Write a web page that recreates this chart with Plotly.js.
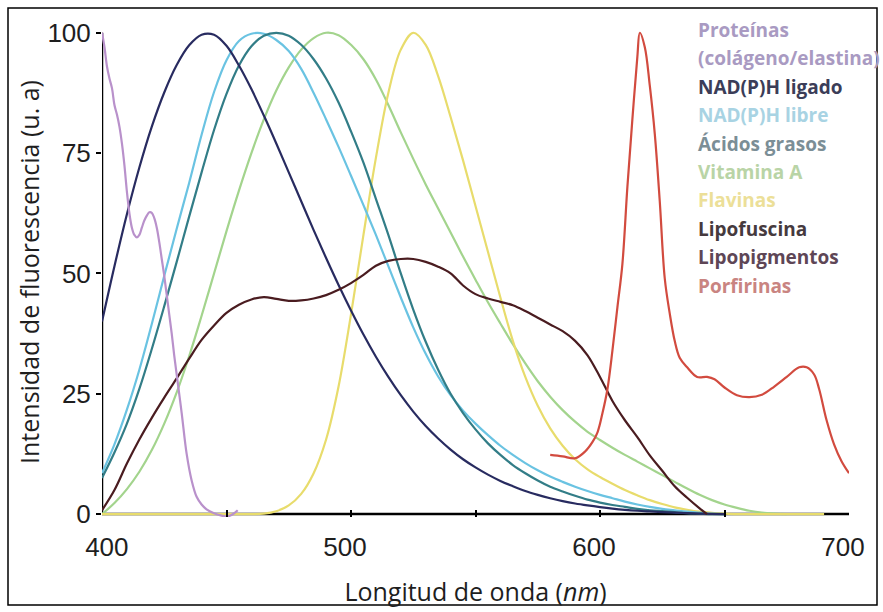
<!DOCTYPE html>
<html><head><meta charset="utf-8">
<script src="https://cdn.plot.ly/plotly-3.0.1.min.js"></script>
<style>html,body{margin:0;padding:0;background:#fff;} #chart{width:883px;height:612px;}</style>
</head><body><div id="chart"></div>
<script>
// ---------- data ----------
const grid5 = [];
for (let w = 400; w <= 650; w += 5) grid5.push(w);

const proteinsX = [400,401,402,403,404,405,406,407,408,409,410,411,412,413,414,415,416,417,418,419,420,421,422,423,424,425,426,427,428,429,430,432,434,436,438,440,442,445,448,450,452,454.5];
const proteinsY = [100,97,93,90.5,88.5,85,83,80.5,77,72.5,67,62.5,59.5,58,57.5,58,59.5,61,62,62.7,62.6,61.5,59.5,56.5,53,49.5,45.5,41.5,37.5,33,29,21,12.5,7,3.6,2,1,0.2,-0.3,-0.5,-0.2,0.8];

const nadhBoundX = grid5;
const nadhBoundY = [40,51.5,62.3,72,80.5,87.6,93.3,97.4,99.6,99.6,97.3,93.2,88.3,82.8,77,71,65,59,53.2,47.6,42.3,37.3,32.7,28.5,24.7,21.3,18.3,15.7,13.4,11.4,9.7,8.2,6.9,5.8,4.8,4,3.3,2.7,2.2,1.8,1.45,1.15,0.9,0.7,0.55,0.42,0.3,0.2,0.12,0.05,0];

const nadhFreeX = grid5;
const nadhFreeY = [8.5,14.5,21.7,30,39.5,49.5,59.3,68.8,78.8,87.7,94.3,98.3,99.8,99.8,98.5,96.2,92.5,87.5,82,76.3,70.3,64.2,58,51.5,45,38.8,33.3,28.6,24.7,21.5,18.8,16.4,14.2,12.3,10.6,9.1,7.8,6.7,5.7,4.8,4,3.3,2.6,2,1.5,1.1,0.8,0.5,0.3,0.1,0];

const fattyAcidsX = grid5;
const fattyAcidsY = [7.5,12.8,18.8,26,34.3,43.2,52.4,61.8,71,79.8,87.3,93.2,97.2,99.4,100,99.4,97.5,94.5,90.5,85.5,79.5,73,65.5,58,50,42.5,35.8,30,25,21,17.6,14.7,12.3,10.2,8.5,7,5.7,4.7,3.8,3,2.4,1.9,1.5,1.1,0.8,0.6,0.4,0.2,0.1,0,0];

const vitaminAX = [400,405,410,415,420,425,430,435,440,445,450,455,460,465,470,475,480,485,490,495,500,505,510,515,520,525,530,535,540,545,550,555,560,565,570,575,580,585,590,595,600,605,610,615,620,625,630,635,640,645,650,655,660,665,670,675];
const vitaminAY = [0,2.3,5.2,8.8,13.3,18.8,25.3,32.8,41.2,50,58.8,67.2,75,82,88,92.8,96.5,98.9,100,99.5,97.5,94.5,90.3,85,79.3,73.8,68.5,63.5,58.5,53.5,48.7,44,39.6,35.3,31.3,27.6,24.4,21.6,19.2,17.1,15.4,13.8,12.3,10.9,9.5,8.1,6.7,5.3,4,2.9,2,1.3,0.7,0.3,0.1,0];

const flavinsX = [400,405,410,415,420,425,430,435,440,445,450,455,460,465,470,475,480,485,490,495,500,505,510,515,520,525,530,535,540,545,550,555,560,565,570,575,580,585,590,595,600,605,610,615,620,625,630,635,640,645,650,655,660,670,680,690];
const flavinsY = [0,0,0,0,0,0,0,0,0,0,0,0,0,0.1,0.6,1.8,4.2,8.5,15.5,26.5,41.5,58,74,87.5,96.5,100,97.5,91,82.5,73.5,64,54.5,45,36,28.5,22.5,17.8,14.2,11.4,9.3,7.7,6.3,5,3.9,2.9,2.1,1.4,0.9,0.5,0.25,0.1,0,0,0,0,0];

const lipofuscinX = [400,405,410,415,420,425,430,435,440,445,450,455,460,465,470,475,480,485,490,495,500,505,510,515,520,525,530,535,540,545,550,555,560,565,570,575,580,585,590,595,600,605,610,615,620,625,630,635,640,643];
const lipofuscinY = [0.8,5,10.5,15.5,20,24.2,28.2,32.3,36.2,39.2,41.8,43.5,44.6,45.1,44.7,44.3,44.4,44.8,45.5,46.6,48,49.7,51.6,52.6,53,53,52.4,51.4,50,47.5,45.7,44.8,44.1,43.4,42.2,40.8,39.4,38,36,33,28.5,23.5,19.5,16,12.2,9,5.8,3.4,1.2,0];

const porphyrinsX = [580,585,590,594,597,599,601,603,605,607,609,611,613,615,616,618,620,622,624,626,628,630,632,635,639,643,646,650,655,660,665,670,675,680,683,686,688,691,694,697,700];
const porphyrinsY = [12.3,12,11.6,13,15,17,21,26,34,43,52,68,82,95,100,97,89,79,65,49,41.7,36,32.5,30.5,28.5,28.5,28,26.3,24.7,24.3,24.8,26.5,28.5,30.5,30.5,29,26,19.5,14.5,11,8.5];

const legendLabels = ['Proteínas','(colágeno/elastina)','NAD(P)H ligado','NAD(P)H libre','Ácidos grasos','Vitamina A','Flavinas','Lipofuscina','Lipopigmentos','Porfirinas'];
const legendColors = ['#a99ac2','#a99ac2','#3b3d58','#a8d3e3','#7b8e96','#b9d4a6','#ecdf98','#463a3e','#5e4656','#c98481'];

const xTickVals = [400,450,500,550,600,650,700];
const xTickText = ['400','','500','','600','','700'];
const yTickVals = [0,25,50,75,100];
const yTickText = ['0','25','50','75','100'];

// ---------- traces ----------
const series = [
  {x: vitaminAX,   y: vitaminAY,   c: '#a3d48d', n: 'Vitamina A'},
  {x: flavinsX,    y: flavinsY,    c: '#e8dc6c', n: 'Flavinas'},
  {x: nadhFreeX,   y: nadhFreeY,   c: '#6ac3e2', n: 'NAD(P)H libre'},
  {x: fattyAcidsX, y: fattyAcidsY, c: '#327d87', n: 'Ácidos grasos'},
  {x: nadhBoundX,  y: nadhBoundY,  c: '#282b60', n: 'NAD(P)H ligado'},
  {x: lipofuscinX, y: lipofuscinY, c: '#4a1c20', n: 'Lipofuscina'},
  {x: proteinsX,   y: proteinsY,   c: '#b991cb', n: 'Proteínas'},
  {x: porphyrinsX, y: porphyrinsY, c: '#d24b3f', n: 'Porfirinas'}
];
const traces = series.map(s => ({
  type: 'scatter', mode: 'lines', x: s.x, y: s.y, name: s.n,
  line: {color: s.c, width: 2.2, shape: 'spline', smoothing: 1},
  hoverinfo: 'x+y+name'
}));

// ---------- layout ----------
const W = 883, H = 612, L = 102, R = 34, T = 27, B = 95;
const pw = W - L - R, ph = H - T - B;
const pxX = x => (x - L) / pw;
const pxY = y => (H - B - y) / ph;

const annotations = legendLabels.map((t, i) => ({
  text: '<b>' + t + '</b>', xref: 'paper', yref: 'paper',
  x: pxX(696), y: pxY(30 + i * 28.4), xanchor: 'left', yanchor: 'middle',
  showarrow: false, font: {family: 'Open Sans', size: 19, color: legendColors[i]}
}));

// first label sits a little right of its tick in the reference
const xTickTextShown = xTickText.map((t, i) => i === 0 ? '\u00a0\u00a0\u00a0' + t : t);

const layout = {
  width: W, height: H,
  margin: {l: L, r: R, t: T, b: B, pad: 0},
  paper_bgcolor: '#fff', plot_bgcolor: '#fff',
  showlegend: false,
  xaxis: {
    range: [400, 700], tickmode: 'array', tickvals: xTickVals, ticktext: xTickTextShown,
    ticks: 'inside', ticklen: 7, tickwidth: 1.5, tickcolor: '#000',
    showline: false, zeroline: false, showgrid: false, automargin: false,
    tickfont: {family: 'Liberation Sans, Arial', size: 26, color: '#1e1e1e'},
    ticklabelstandoff: 12, ticklabelshift: -6,
    title: {text: 'Longitud de onda (<i>nm</i>)', font: {family: 'Open Sans', size: 25, color: '#1e1e1e'}, standoff: 22}
  },
  yaxis: {
    range: [-0.6, 101.2], tickmode: 'array', tickvals: yTickVals, ticktext: yTickText,
    ticks: 'outside', ticklen: 5, tickwidth: 1.5, tickcolor: '#000',
    showline: false, zeroline: false, showgrid: false, automargin: false,
    tickfont: {family: 'Liberation Sans, Arial', size: 26, color: '#1e1e1e'},
    title: {text: 'Intensidad de fluorescencia (u. a)', font: {family: 'Open Sans', size: 25, color: '#1e1e1e'}, standoff: 0}
  },
  shapes: [
    {type: 'line', xref: 'x', yref: 'y', x0: 400, x1: 400, y0: 0, y1: 100, line: {color: '#000', width: 2.5}, layer: 'below'},
    {type: 'line', xref: 'x', yref: 'y', x0: 400, x1: 700, y0: 0, y1: 0, line: {color: '#000', width: 2.5}, layer: 'below'},
    {type: 'rect', xref: 'paper', yref: 'paper', x0: pxX(8), x1: pxX(877), y0: pxY(605), y1: pxY(8), line: {color: '#000', width: 1.5}, fillcolor: 'rgba(0,0,0,0)', layer: 'above'}
  ],
  annotations: annotations
};

Plotly.newPlot('chart', traces, layout, {displayModeBar: false, responsive: false});
</script></body></html>
